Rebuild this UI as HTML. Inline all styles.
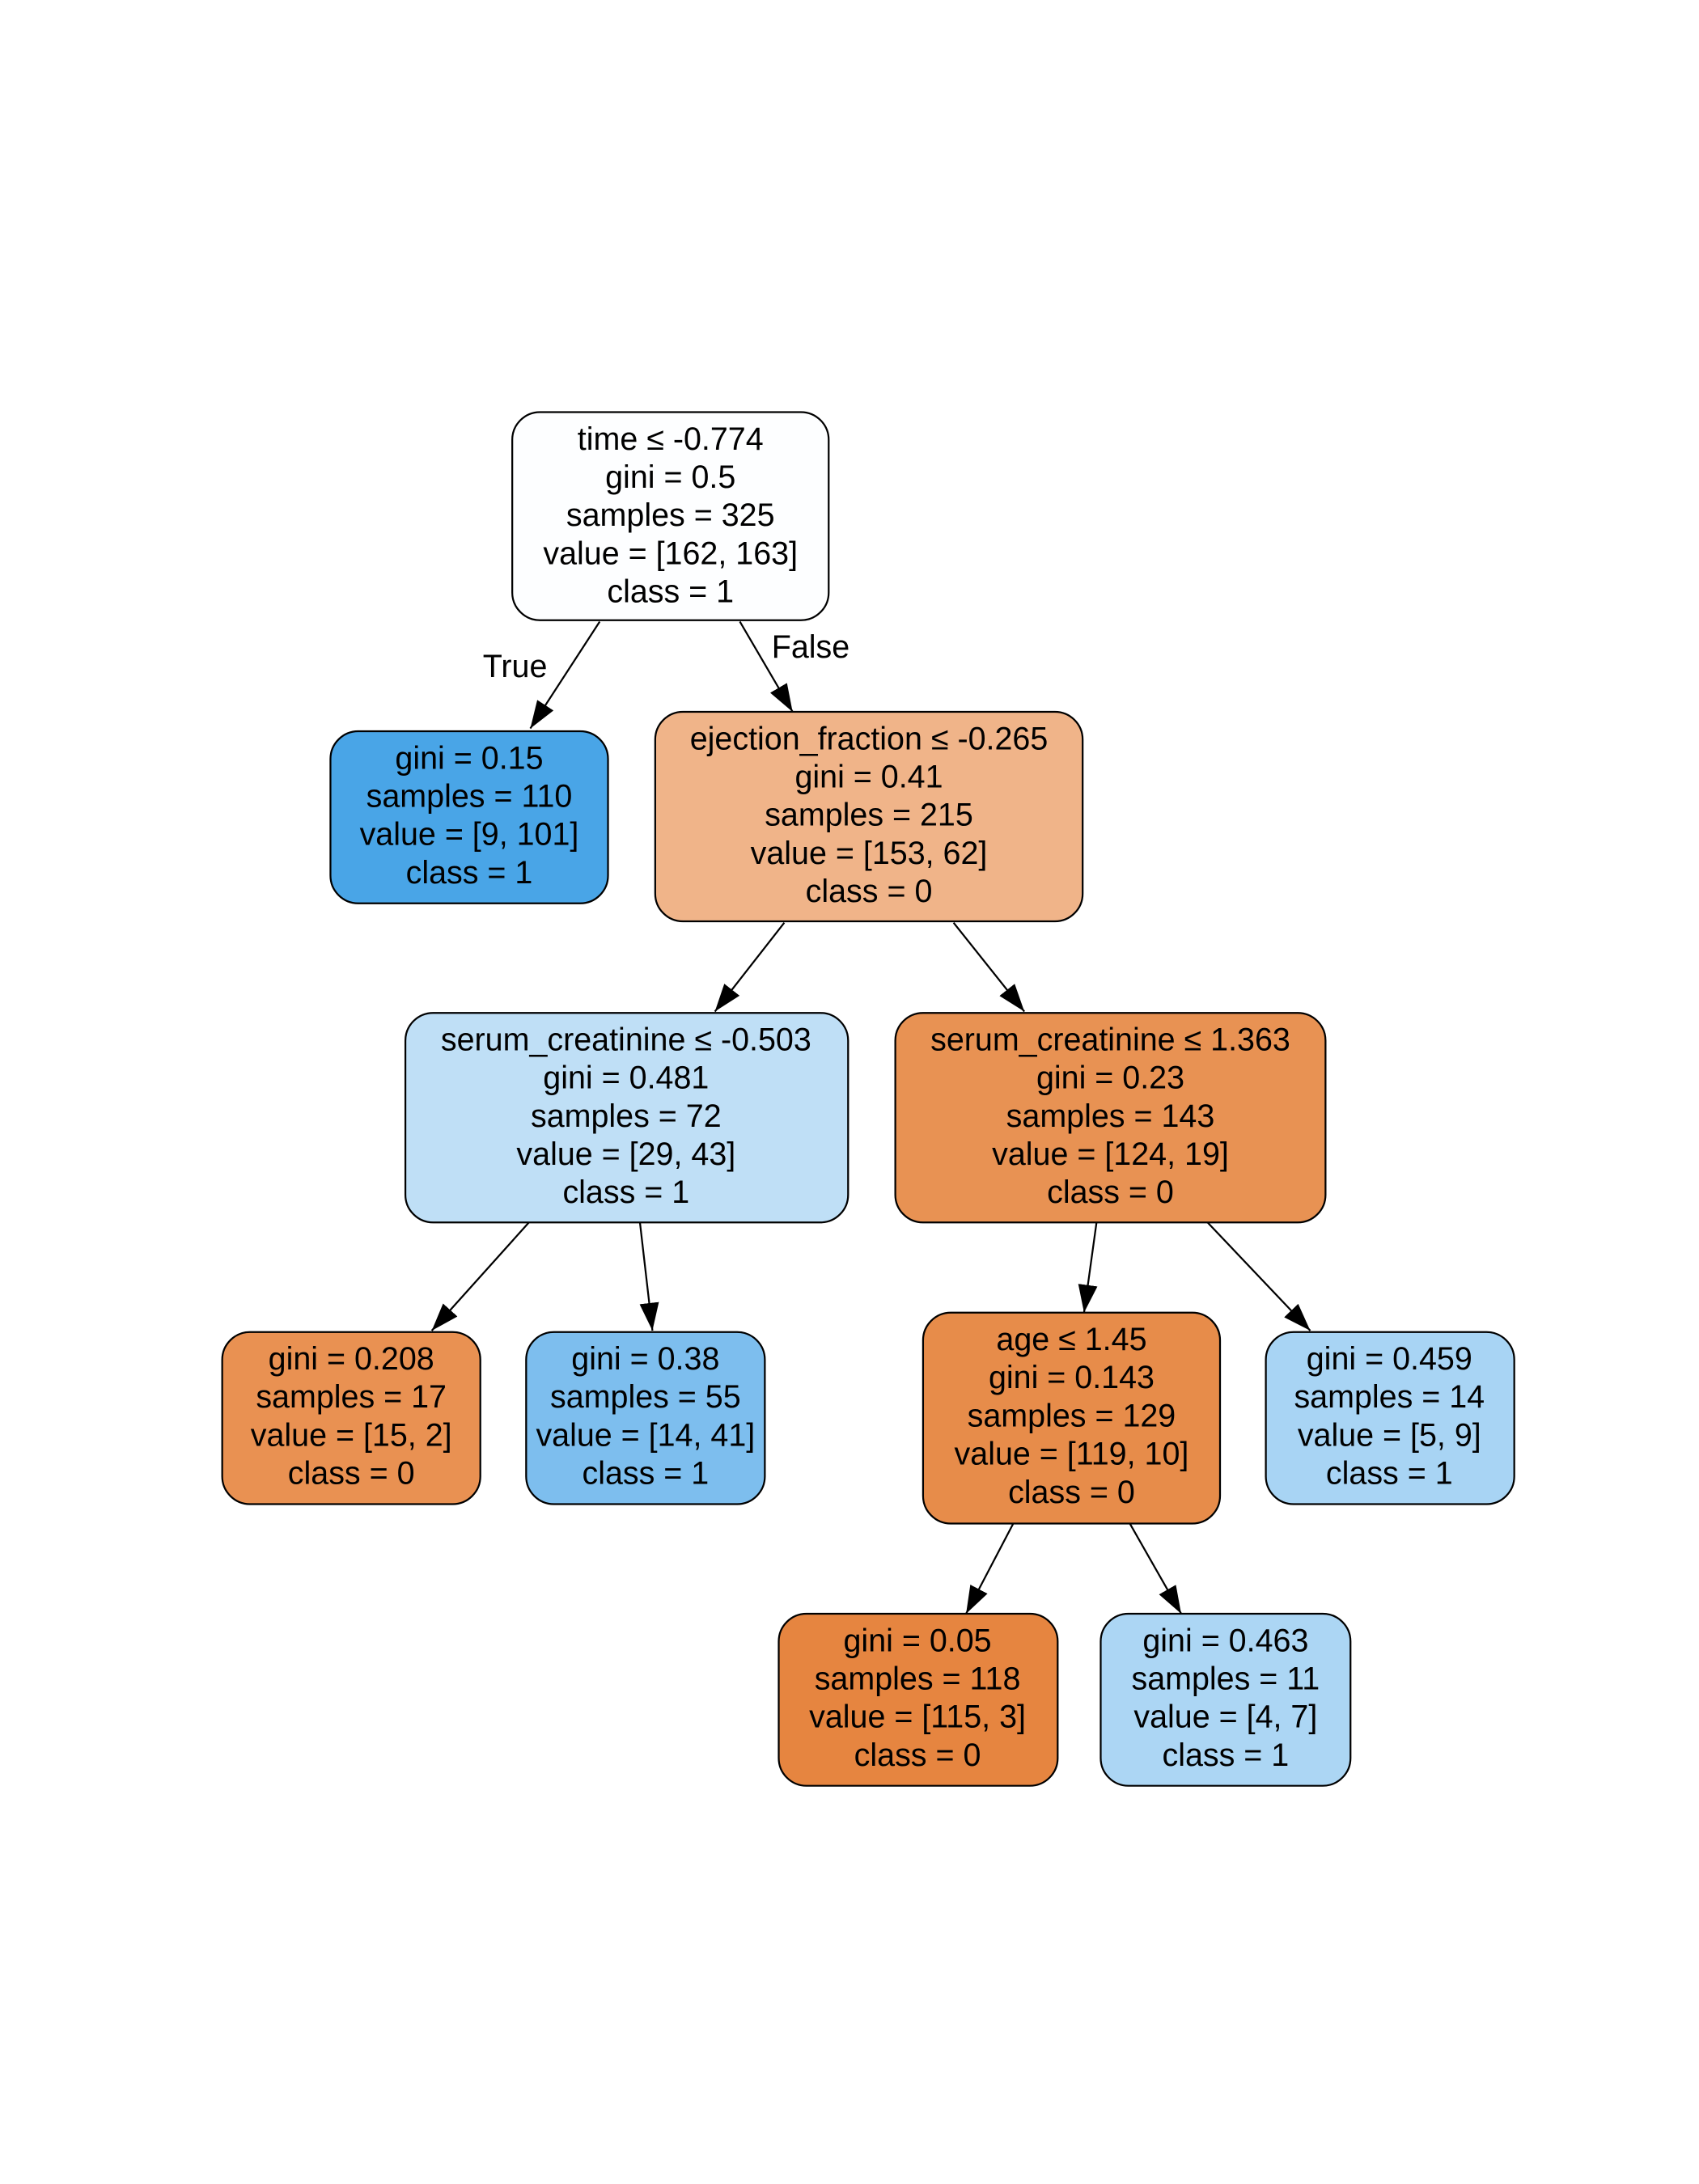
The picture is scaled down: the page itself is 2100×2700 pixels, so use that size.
<!DOCTYPE html>
<html><head><meta charset="utf-8"><style>html,body{margin:0;padding:0;background:#fff}svg{display:block}</style></head>
<body>
<svg width="2100" height="2700" viewBox="0 0 1224 1574" xmlns="http://www.w3.org/2000/svg" font-family="'Liberation Sans', sans-serif" font-size="23" text-anchor="middle">
<defs><marker id="a" markerWidth="10" markerHeight="10" refX="9" refY="5" orient="auto" markerUnits="userSpaceOnUse" viewBox="0 0 10 10"><path d="M0,0 L10,5 L0,10 z" fill="#000"/></marker>
<marker id="ah" viewBox="0 0 20 14" refX="20" refY="7" markerWidth="20" markerHeight="14" orient="auto" markerUnits="userSpaceOnUse"><path d="M0,0 L20,7 L0,14 z" fill="#000"/></marker></defs>
<g stroke="#000" stroke-width="1.3" fill="none">
<line x1="432" y1="448" x2="382" y2="525" marker-end="url(#ah)"/>
<line x1="533" y1="448" x2="571" y2="513" marker-end="url(#ah)"/>
<line x1="565" y1="665" x2="515" y2="729" marker-end="url(#ah)"/>
<line x1="687" y1="665" x2="738" y2="729" marker-end="url(#ah)"/>
<line x1="381" y1="881" x2="311" y2="959" marker-end="url(#ah)"/>
<line x1="461" y1="881" x2="470" y2="959" marker-end="url(#ah)"/>
<line x1="790" y1="881" x2="781" y2="946" marker-end="url(#ah)"/>
<line x1="870" y1="881" x2="944" y2="959" marker-end="url(#ah)"/>
<line x1="730" y1="1098" x2="696" y2="1163" marker-end="url(#ah)"/>
<line x1="814" y1="1098" x2="851" y2="1163" marker-end="url(#ah)"/>
</g>
<text x="371" y="488">True</text>
<text x="584" y="474">False</text>
<g stroke="#000" stroke-width="1.3">
<rect x="369" y="297" width="228" height="150" rx="20" fill="#fdfeff"/>
<rect x="238" y="527" width="200" height="124" rx="20" fill="#49a5e7"/>
<rect x="472" y="513" width="308" height="151" rx="20" fill="#f0b489"/>
<rect x="292" y="730" width="319" height="151" rx="20" fill="#bfdff6"/>
<rect x="645" y="730" width="310" height="151" rx="20" fill="#e89253"/>
<rect x="160" y="960" width="186" height="124" rx="20" fill="#e99152"/>
<rect x="379" y="960" width="172" height="124" rx="20" fill="#7dbeee"/>
<rect x="665" y="946" width="214" height="152" rx="20" fill="#e78c4a"/>
<rect x="912" y="960" width="179" height="124" rx="20" fill="#a8d4f4"/>
<rect x="561" y="1163" width="201" height="124" rx="20" fill="#e68540"/>
<rect x="793" y="1163" width="180" height="124" rx="20" fill="#acd6f4"/>
</g>
<g fill="#000">
<text x="483" y="324">time ≤ -0.774</text><text x="483" y="351.5">gini = 0.5</text><text x="483" y="379">samples = 325</text><text x="483" y="406.5">value = [162, 163]</text><text x="483" y="434">class = 1</text>
<text x="338" y="554">gini = 0.15</text><text x="338" y="581.5">samples = 110</text><text x="338" y="609">value = [9, 101]</text><text x="338" y="636.5">class = 1</text>
<text x="626" y="540">ejection_fraction ≤ -0.265</text><text x="626" y="567.5">gini = 0.41</text><text x="626" y="595">samples = 215</text><text x="626" y="622.5">value = [153, 62]</text><text x="626" y="650">class = 0</text>
<text x="451" y="757">serum_creatinine ≤ -0.503</text><text x="451" y="784.5">gini = 0.481</text><text x="451" y="812">samples = 72</text><text x="451" y="839.5">value = [29, 43]</text><text x="451" y="867">class = 1</text>
<text x="800" y="757">serum_creatinine ≤ 1.363</text><text x="800" y="784.5">gini = 0.23</text><text x="800" y="812">samples = 143</text><text x="800" y="839.5">value = [124, 19]</text><text x="800" y="867">class = 0</text>
<text x="253" y="987">gini = 0.208</text><text x="253" y="1014.5">samples = 17</text><text x="253" y="1042">value = [15, 2]</text><text x="253" y="1069.5">class = 0</text>
<text x="465" y="987">gini = 0.38</text><text x="465" y="1014.5">samples = 55</text><text x="465" y="1042">value = [14, 41]</text><text x="465" y="1069.5">class = 1</text>
<text x="772" y="973">age ≤ 1.45</text><text x="772" y="1000.5">gini = 0.143</text><text x="772" y="1028">samples = 129</text><text x="772" y="1055.5">value = [119, 10]</text><text x="772" y="1083">class = 0</text>
<text x="1001" y="987">gini = 0.459</text><text x="1001" y="1014.5">samples = 14</text><text x="1001" y="1042">value = [5, 9]</text><text x="1001" y="1069.5">class = 1</text>
<text x="661" y="1190">gini = 0.05</text><text x="661" y="1217.5">samples = 118</text><text x="661" y="1245">value = [115, 3]</text><text x="661" y="1272.5">class = 0</text>
<text x="883" y="1190">gini = 0.463</text><text x="883" y="1217.5">samples = 11</text><text x="883" y="1245">value = [4, 7]</text><text x="883" y="1272.5">class = 1</text>
</g>
</svg>
</body></html>
